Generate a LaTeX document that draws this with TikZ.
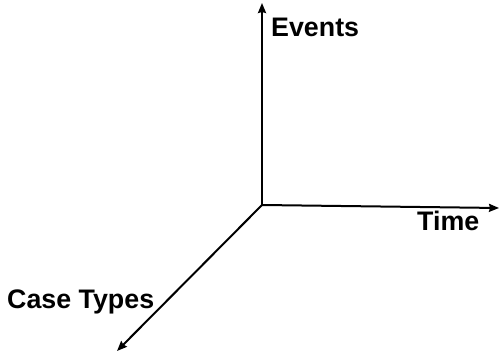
\documentclass[tikz,border=0pt]{standalone}
\usepackage{fontspec}
\setmainfont{Liberation Sans}
\usetikzlibrary{arrows.meta}
\begin{document}
\begin{tikzpicture}[x=1pt,y=-1pt,
  axis/.style={line width=2pt,-{Stealth[length=10pt,width=8pt,inset=1pt]}},
  axislabel/.style={font=\fontsize{26.8}{30}\selectfont\bfseries,inner sep=0pt,anchor=base west}]
  \useasboundingbox (0,0) rectangle (500,355);
  \coordinate (o) at (262,205);
  \coordinate (up) at (262,3);
  \coordinate (right) at (499,208);
  \coordinate (down) at (117,351);
  \draw[axis] (o) -- (up);
  \draw[axis] (o) -- (right);
  \draw[axis] (o) -- (down);
  \node[axislabel] (events) at (271,37) {Events};
  \node[axislabel] (time) at (417,230) {Time};
  \node[axislabel] (cases) at (7,308) {Case Types};
\end{tikzpicture}
\end{document}
